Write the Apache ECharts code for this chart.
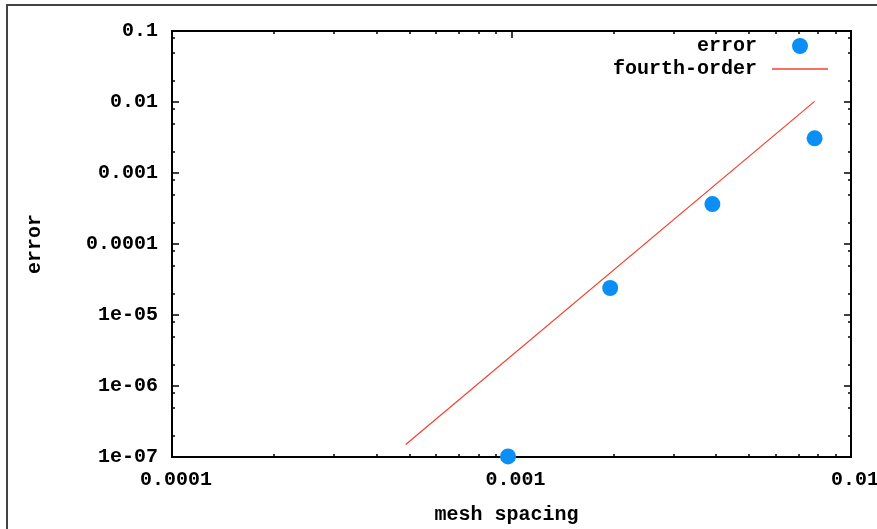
<!DOCTYPE html>
<html>
<head>
<meta charset="utf-8">
<script src="https://cdn.jsdelivr.net/npm/echarts@6/dist/echarts.min.js"></script>
<style>
  html, body { margin: 0; padding: 0; background: #ffffff; }
  #chart { width: 877px; height: 529px; }
</style>
</head>
<body>
<div id="chart"></div>
<script>
// Measured error against mesh spacing (log-log), with a fourth-order reference line
const meshSpacing = [0.0009766, 0.0019531, 0.0039063, 0.0078125];
const errorValues = [1.02e-7, 2.4e-5, 3.65e-4, 3.08e-3];

const refLineSpacing = [0.000488, 0.0078125];
const refLineError = [1.5e-7, 0.0102];

const xTicks = [0.0001, 0.001, 0.01];
const xTickLabels = ['0.0001', '0.001', '0.01'];
const yTicks = [1e-7, 1e-6, 1e-5, 1e-4, 0.001, 0.01, 0.1];
const yTickLabels = ['1e-07', '1e-06', '1e-05', '0.0001', '0.001', '0.01', '0.1'];

const xMinorSteps = [2, 3, 4, 5, 6, 7, 8, 9];
const yMinorSteps = [2, 5, 8];

const seriesNames = ['error', 'fourth-order'];
const xName = 'mesh spacing';
const yName = 'error';

// minor tick positions inside each decade
function minorValues(majors, steps) {
  const out = [];
  for (let i = 0; i < majors.length - 1; i++) {
    steps.forEach(s => out.push(majors[i] * s));
  }
  return out;
}
function labelFor(ticks, labels) {
  return function (v) {
    let best = 0, bestD = Infinity;
    ticks.forEach((t, i) => {
      const d = Math.abs(Math.log10(t) - Math.log10(v));
      if (d < bestD) { bestD = d; best = i; }
    });
    return labels[best];
  };
}

const FONT = "'Liberation Mono', 'DejaVu Sans Mono', monospace";
const textBase = { fontFamily: FONT, fontWeight: 'bold', fontSize: 20, color: '#000' };
const axisLineStyle = { show: true, lineStyle: { color: '#000', width: 2 } };

function xAxisDef(position, major, showLabels) {
  return {
    type: 'log', logBase: 10, min: xTicks[0], max: xTicks[xTicks.length - 1],
    position: position,
    axisLine: axisLineStyle,
    axisTick: {
      show: true, inside: true, length: major ? 7 : 3,
      customValues: major ? xTicks : minorValues(xTicks, xMinorSteps),
      lineStyle: { color: '#000', width: 1.5 }
    },
    minorTick: { show: false },
    axisLabel: showLabels ? Object.assign({
      show: true, margin: 13, customValues: xTicks,
      formatter: labelFor(xTicks, xTickLabels),
      padding: [0, 0, 0, 8]
    }, textBase) : { show: false },
    splitLine: { show: false },
    name: showLabels ? xName : '',
    nameLocation: 'middle',
    nameGap: 48,
    nameTextStyle: Object.assign({ padding: [0, 10, 0, 0] }, textBase)
  };
}
function yAxisDef(position, major, showLabels) {
  return {
    type: 'log', logBase: 10, min: yTicks[0], max: yTicks[yTicks.length - 1],
    position: position,
    axisLine: axisLineStyle,
    axisTick: {
      show: true, inside: true, length: major ? 7 : 3,
      customValues: major ? yTicks : minorValues(yTicks, yMinorSteps),
      lineStyle: { color: '#000', width: 1.5 }
    },
    minorTick: { show: false },
    axisLabel: showLabels ? Object.assign({
      show: true, margin: 14, customValues: yTicks,
      formatter: labelFor(yTicks, yTickLabels)
    }, textBase) : { show: false },
    splitLine: { show: false },
    name: showLabels ? yName : '',
    nameLocation: 'middle',
    nameRotate: 90,
    nameGap: 127,
    nameTextStyle: textBase
  };
}

const chart = echarts.init(document.getElementById('chart'), null, { renderer: 'canvas' });
chart.setOption({
  backgroundColor: '#ffffff',
  animation: false,
  grid: {
    left: 172, top: 31, right: 26, bottom: 72,
    containLabel: false, outerBoundsMode: 'none'
  },
  graphic: [{
    type: 'rect',
    shape: { x: 7, y: 5, width: 920, height: 600 },
    style: { fill: 'none', stroke: '#444', lineWidth: 2 },
    silent: true, z: -10
  }],
  legend: {
    data: [
      { name: seriesNames[0], icon: 'circle' },
      { name: seriesNames[1], icon: 'path://M0,0H56V1.3H0Z' }
    ],
    orient: 'vertical',
    align: 'right',
    right: 44,
    top: 31,
    itemWidth: 56,
    itemHeight: 16,
    itemGap: 3,
    textStyle: Object.assign({ padding: [0, 10, 0, 0] }, textBase),
    selectedMode: false
  },
  xAxis: [
    xAxisDef('bottom', true, true),
    xAxisDef('bottom', false, false),
    xAxisDef('top', true, false),
    xAxisDef('top', false, false)
  ],
  yAxis: [
    yAxisDef('left', true, true),
    yAxisDef('left', false, false),
    yAxisDef('right', true, false),
    yAxisDef('right', false, false)
  ],
  series: [
    {
      name: seriesNames[0],
      type: 'scatter',
      xAxisIndex: 0, yAxisIndex: 0,
      symbol: 'circle',
      symbolSize: 16,
      clip: false,
      itemStyle: { color: '#0b8ff5', opacity: 1 },
      data: meshSpacing.map((x, i) => [x, errorValues[i]]),
      z: 3
    },
    {
      name: seriesNames[1],
      type: 'line',
      xAxisIndex: 0, yAxisIndex: 0,
      symbol: 'none',
      showSymbol: false,
      lineStyle: { color: '#f4402c', width: 1.2 },
      itemStyle: { color: '#f4402c' },
      data: refLineSpacing.map((x, i) => [x, refLineError[i]]),
      z: 2
    }
  ]
});
</script>
</body>
</html>
